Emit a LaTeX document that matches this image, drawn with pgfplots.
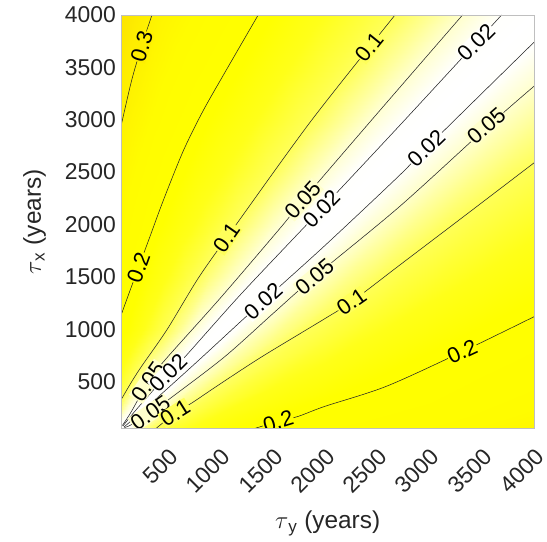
\documentclass[border=0pt]{standalone}
\usepackage{fontspec}
\setmainfont{Liberation Sans}
\usepackage{pgfplots}
\usepackage{pgfplotstable}
\pgfplotsset{compat=1.18}
\definecolor{c02}{RGB}{255,255,252}
\definecolor{c05}{RGB}{255,255,205}
\definecolor{c10}{RGB}{255,255,90}
\definecolor{c20}{RGB}{255,255,0}
\definecolor{c30}{RGB}{254,238,0}
\newcommand\tickfont{\fontsize{23}{23}\selectfont}
\newcommand\labfont{\fontsize{24.5}{24.5}\selectfont}
\newcommand\clabfont{\fontsize{22}{22}\selectfont}
\newcommand\clab[5]{\node[rotate=#3, fill=#4, inner sep=0.5pt, font=\clabfont] at (axis cs:#1,#2) {#5};}

% mesh: each line of 21 points follows the L-shaped path max(tau_x,tau_y)=m
\pgfplotstableread{
h v f
0 50 0.028
2.5 50 0.025
5 50 0.022
10 50 0.017
15 50 0.013
22.5 50 0.009
30 50 0.006
37.5 50 0.004
42.5 50 0.002
46.5 50 0.001
50 50 0
50 46.5 0.001
50 42.5 0.002
50 37.5 0.004
50 30 0.006
50 22.5 0.009
50 15 0.013
50 10 0.017
50 5 0.022
50 2.5 0.025
50 0 0.028
0 250 0.125
12.5 250 0.115
25 250 0.103
50 250 0.085
75 250 0.066
112.5 250 0.045
150 250 0.030
187.5 250 0.019
212.5 250 0.011
232.5 250 0.005
250 250 0
250 232.5 0.006
250 212.5 0.013
250 187.5 0.024
250 150 0.037
250 112.5 0.050
250 75 0.066
250 50 0.078
250 25 0.090
250 12.5 0.096
250 0 0.103
0 500 0.160
25 500 0.146
50 500 0.135
100 500 0.115
150 500 0.097
225 500 0.068
300 500 0.049
375 500 0.032
425 500 0.018
465 500 0.009
500 500 0
500 465 0.009
500 425 0.019
500 375 0.034
500 300 0.055
500 225 0.075
500 150 0.100
500 100 0.116
500 50 0.132
500 25 0.140
500 0 0.150
0 750 0.190
37.5 750 0.177
75 750 0.163
150 750 0.140
225 750 0.118
337.5 750 0.090
450 750 0.068
562.5 750 0.042
637.5 750 0.023
697.5 750 0.011
750 750 0
750 697.5 0.011
750 637.5 0.023
750 562.5 0.041
750 450 0.065
750 337.5 0.088
750 225 0.113
750 150 0.132
750 75 0.150
750 37.5 0.160
750 0 0.170
0 1000 0.215
50 1000 0.200
100 1000 0.189
200 1000 0.166
300 1000 0.143
450 1000 0.109
600 1000 0.077
750 1000 0.046
850 1000 0.026
930 1000 0.012
1000 1000 0
1000 930 0.012
1000 850 0.026
1000 750 0.045
1000 600 0.072
1000 450 0.100
1000 300 0.130
1000 200 0.150
1000 100 0.170
1000 50 0.180
1000 0 0.190
0 1500 0.250
75 1500 0.232
150 1500 0.212
300 1500 0.182
450 1500 0.156
675 1500 0.118
900 1500 0.083
1125 1500 0.052
1275 1500 0.029
1395 1500 0.013
1500 1500 0
1500 1395 0.013
1500 1275 0.029
1500 1125 0.052
1500 900 0.083
1500 675 0.115
1500 450 0.149
1500 300 0.171
1500 150 0.193
1500 75 0.204
1500 0 0.215
0 2000 0.280
100 2000 0.255
200 2000 0.236
400 2000 0.195
600 2000 0.169
900 2000 0.131
1200 2000 0.0925
1500 2000 0.055
1700 2000 0.032
1860 2000 0.014
2000 2000 0
2000 1860 0.014
2000 1700 0.034
2000 1500 0.059
2000 1200 0.091
2000 900 0.125
2000 600 0.159
2000 400 0.182
2000 200 0.206
2000 100 0.217
2000 0 0.230
0 2500 0.295
125 2500 0.270
250 2500 0.251
500 2500 0.210
750 2500 0.179
1125 2500 0.140
1500 2500 0.100
1875 2500 0.060
2125 2500 0.034
2325 2500 0.015
2500 2500 0
2500 2325 0.016
2500 2125 0.0375
2500 1875 0.063
2500 1500 0.098
2500 1125 0.134
2500 750 0.170
2500 500 0.194
2500 250 0.216
2500 125 0.228
2500 0 0.243
0 3000 0.310
150 3000 0.286
300 3000 0.266
600 3000 0.225
900 3000 0.189
1350 3000 0.149
1800 3000 0.108
2250 3000 0.065
2550 3000 0.036
2790 3000 0.016
3000 3000 0
3000 2790 0.018
3000 2550 0.041
3000 2250 0.0675
3000 1800 0.105
3000 1350 0.1425
3000 900 0.180
3000 600 0.205
3000 300 0.225
3000 150 0.238
3000 0 0.255
0 3500 0.340
175 3500 0.308
350 3500 0.280
700 3500 0.240
1050 3500 0.203
1575 3500 0.156
2100 3500 0.115
2625 3500 0.070
2975 3500 0.040
3255 3500 0.017
3500 3500 0
3500 3255 0.0185
3500 2975 0.0425
3500 2625 0.070
3500 2100 0.110
3500 1575 0.148
3500 1050 0.188
3500 700 0.215
3500 350 0.238
3500 175 0.252
3500 0 0.270
0 4000 0.370
200 4000 0.329
400 4000 0.294
800 4000 0.255
1200 4000 0.216
1800 4000 0.163
2400 4000 0.121
3000 4000 0.075
3400 4000 0.043
3720 4000 0.018
4000 4000 0
4000 3720 0.019
4000 3400 0.044
4000 3000 0.072
4000 2400 0.114
4000 1800 0.154
4000 1200 0.195
4000 800 0.224
4000 400 0.250
4000 200 0.265
4000 0 0.285
}\surfdata

\begin{document}
\begin{tikzpicture}
\begin{axis}[
  scale only axis, width=413bp, height=414bp,
  xmin=50, xmax=4000, ymin=50, ymax=4000,
  xtick={500,1000,1500,2000,2500,3000,3500,4000},
  ytick={500,1000,1500,2000,2500,3000,3500,4000},
  major tick length=0pt,
  axis line style={black!25, line width=0.4pt},
  axis on top,
  tick label style={font=\tickfont, text=black!85},
  /pgf/number format/1000 sep={},
  /pgf/number format/assume math mode=true,
  xticklabel style={inner sep=0pt, xshift=0bp, yshift=-18bp, rotate=45, anchor=north east},
  yticklabel style={xshift=-2bp},
  label style={font=\labfont, text=black!85},
  xlabel={$\tau$\textsubscript{y} (years)},
  ylabel={$\tau$\textsubscript{x} (years)},
  ylabel shift=12bp,
  xlabel shift=13bp,
  colormap={wy}{rgb255(0pt)=(255,255,255); rgb255(2pt)=(255,255,252); rgb255(5pt)=(255,255,205); rgb255(10pt)=(255,255,90); rgb255(15pt)=(255,255,25); rgb255(19pt)=(255,255,0); rgb255(26pt)=(255,252,0); rgb255(32pt)=(254,238,0); rgb255(40pt)=(251,218,0)},
  point meta min=0, point meta max=0.4,
  cl/.style={black!85, line width=0.55pt, no marks, smooth},
]
\addplot[surf, shader=interp, mesh/rows=11, mesh/cols=21, point meta=explicit]
  table[x=h, y=v, meta=f] {\surfdata};

% contour 0.3
\addplot[cl] coordinates {(50,2951) (150,3380) (250,3720) (343,4000)};
% contour 0.2 (upper)
\addplot[cl] coordinates {(50,1140) (130,1360) (215,1590) (330,1900) (454,2235) (642,2700) (830,3080) (1058,3480) (1360,4000)};
% contour 0.1 (upper)
\addplot[cl] coordinates {(50,330) (150,500) (247,650) (490,1000) (795,1500) (1150,2000) (1875,3000) (2670,4000)};
% contour 0.05 (upper)
\addplot[cl] coordinates {(60,80) (150,220) (308,501) (470,708) (1000,1300) (1583,1980) (1790,2235) (2500,3060) (3316,4000)};
% contour 0.02 (upper)
\addplot[cl] coordinates {(65,75) (200,240) (502,581) (645,720) (1200,1340) (1968,2150) (2700,2930) (3450,3740) (3690,4000)};
% contour 0.02 (lower)
\addplot[cl] coordinates {(75,65) (200,174) (450,396) (800,712) (1200,1080) (1408,1267) (2000,1800) (2700,2457) (3000,2760) (4000,3740)};
% contour 0.05 (lower)
\addplot[cl] coordinates {(80,60) (150,90) (327,203) (550,363) (1043,740) (1500,1148) (1900,1501) (2712,2170) (3542,2922) (4000,3320)};
% contour 0.1 (lower)
\addplot[cl] coordinates {(380,50) (565,199) (724,295) (1000,480) (1400,740) (1997,1100) (2254,1262) (2712,1610) (3285,2044) (4000,2588)};
% contour 0.2 (lower)
\addplot[cl] coordinates {(1320,50) (1551,120) (1742,167) (1997,263) (2585,454) (3313,785) (4000,1119)};

\clab{245}{3700}{73}{c30}{0.3}
\clab{215}{1590}{70}{c20}{0.2}
\clab{1058}{1870}{55}{c10}{0.1}
\clab{2426}{3693}{51}{c10}{0.1}
\clab{1790}{2235}{48}{c05}{0.05}
\clab{308}{501}{55}{c05}{0.05}
\clab{1968}{2150}{46}{c02}{0.02}
\clab{3450}{3740}{45}{c02}{0.02}
\clab{502}{581}{45}{c02}{0.02}
\clab{1408}{1267}{42}{c02}{0.02}
\clab{2970}{2730}{44}{c02}{0.02}
\clab{327}{203}{35}{c05}{0.05}
\clab{1900}{1501}{40}{c05}{0.05}
\clab{3542}{2940}{41}{c05}{0.05}
\clab{565}{199}{32}{c10}{0.1}
\clab{2254}{1262}{35}{c10}{0.1}
\clab{1551}{118}{17}{c20}{0.2}
\clab{3313}{785}{25}{c20}{0.2}
\end{axis}
\path (current bounding box.south west) ++(-20bp,0);
\path ([yshift=15bp]current axis.north);
\path ([yshift=-113bp]current axis.south);
\path ([xshift=13bp]current axis.east);
\end{tikzpicture}
\end{document}
